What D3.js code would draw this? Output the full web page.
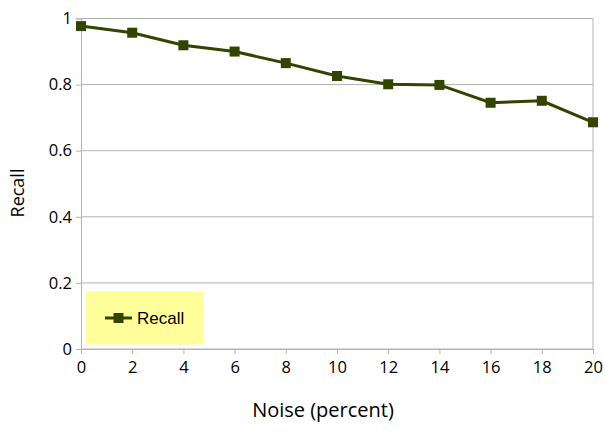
<!DOCTYPE html>
<html>
<head>
<meta charset="utf-8">
<script src="https://cdn.jsdelivr.net/npm/d3@7"></script>
<style>
  body { margin: 0; background: #fff; }
  text { fill: #000; }
</style>
</head>
<body>
<div id="wrapper"></div>
<script>
// data
const noise = [0, 2, 4, 6, 8, 10, 12, 14, 16, 18, 20];
const recall = [0.977, 0.957, 0.919, 0.900, 0.865, 0.826, 0.801, 0.799, 0.745, 0.751, 0.686];
const xTicks = [0, 2, 4, 6, 8, 10, 12, 14, 16, 18, 20];
const yTicks = [0, 0.2, 0.4, 0.6, 0.8, 1];
const seriesName = 'Recall';

const dimensions = {
  width: 605,
  height: 436,
  margin: { top: 18.5, right: 12, bottom: 87, left: 81 },
};
dimensions.boundedWidth = dimensions.width - dimensions.margin.left - dimensions.margin.right;
dimensions.boundedHeight = dimensions.height - dimensions.margin.top - dimensions.margin.bottom;

const svg = d3.select('#wrapper').append('svg')
  .attr('width', dimensions.width)
  .attr('height', dimensions.height);

const bounds = svg.append('g')
  .attr('transform', `translate(${dimensions.margin.left}, ${dimensions.margin.top})`);

const xScale = d3.scaleLinear().domain([0, 20]).range([0, dimensions.boundedWidth]);
const yScale = d3.scaleLinear().domain([0, 1]).range([dimensions.boundedHeight, 0]);

const gridColor = '#b3b3b3';
const lineColor = '#334400';

// gridlines
bounds.append('g').selectAll('line').data(yTicks).join('line')
  .attr('x1', 0).attr('x2', dimensions.boundedWidth)
  .attr('y1', d => yScale(d)).attr('y2', d => yScale(d))
  .attr('stroke', gridColor).attr('stroke-width', 1);
bounds.append('line')
  .attr('x1', dimensions.boundedWidth).attr('x2', dimensions.boundedWidth)
  .attr('y1', 0).attr('y2', dimensions.boundedHeight)
  .attr('stroke', gridColor);

// axes
const xAxis = bounds.append('g')
  .attr('transform', `translate(0, ${dimensions.boundedHeight})`)
  .call(d3.axisBottom(xScale).tickValues(xTicks).tickSize(5).tickPadding(7).tickFormat(d3.format('d')));
const yAxis = bounds.append('g')
  .call(d3.axisLeft(yScale).tickValues(yTicks).tickSize(5).tickPadding(4).tickFormat(d => d3.format('~g')(d)));

[xAxis, yAxis].forEach(a => {
  a.select('.domain').attr('stroke', gridColor).attr('stroke-width', 1);
  a.selectAll('.tick line').attr('stroke', gridColor);
  a.selectAll('.tick text')
    .attr('fill', '#000')
    .style('font-family', '"Open Sans", sans-serif')
    .style('font-size', '16.5px');
});

// line + markers
const lineGen = d3.line()
  .x((d, i) => xScale(noise[i]))
  .y(d => yScale(d));

bounds.append('path')
  .datum(recall)
  .attr('d', lineGen)
  .attr('fill', 'none')
  .attr('stroke', lineColor)
  .attr('stroke-width', 3);

const m = 10;
bounds.append('g').selectAll('rect').data(recall).join('rect')
  .attr('x', (d, i) => xScale(noise[i]) - m / 2)
  .attr('y', d => yScale(d) - m / 2)
  .attr('width', m).attr('height', m)
  .attr('fill', lineColor);

// legend
const legend = svg.append('g').attr('transform', 'translate(86, 291.5)');
legend.append('rect')
  .attr('width', 117).attr('height', 53)
  .attr('fill', '#ffff99');
legend.append('line')
  .attr('x1', 19).attr('x2', 46).attr('y1', 26.5).attr('y2', 26.5)
  .attr('stroke', lineColor).attr('stroke-width', 3);
legend.append('rect')
  .attr('x', 32.5 - m / 2).attr('y', 26.5 - m / 2)
  .attr('width', m).attr('height', m)
  .attr('fill', lineColor);
legend.append('text')
  .attr('x', 51).attr('y', 32.5)
  .style('font-family', '"Liberation Sans", Arial, sans-serif')
  .style('font-size', '17px')
  .text(seriesName);

// axis titles
svg.append('text')
  .attr('x', 323)
  .attr('y', 417)
  .attr('text-anchor', 'middle')
  .style('font-family', '"Open Sans", sans-serif')
  .style('font-size', '20px')
  .text('Noise (percent)');

svg.append('text')
  .attr('transform', 'translate(23.5, 193) rotate(-90)')
  .attr('text-anchor', 'middle')
  .style('font-family', '"Open Sans", sans-serif')
  .style('font-size', '18px')
  .text('Recall');
</script>
</body>
</html>
